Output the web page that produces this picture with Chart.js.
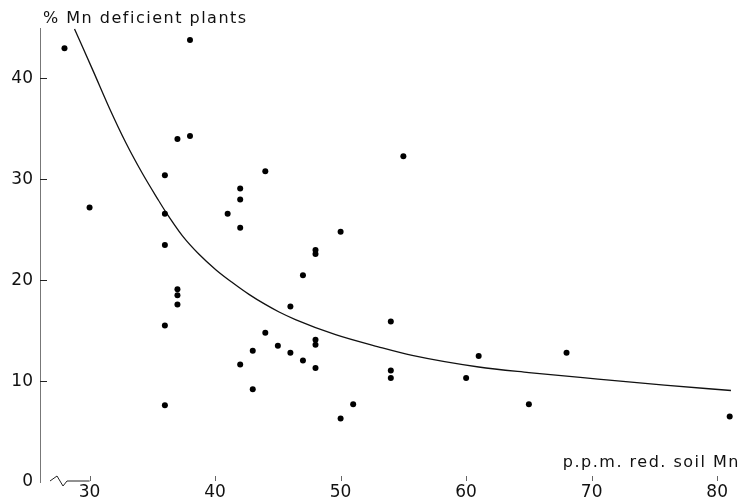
<!DOCTYPE html>
<html>
<head>
<meta charset="utf-8">
<script src="https://cdn.jsdelivr.net/npm/chart.js@4/dist/chart.umd.min.js"></script>
<style>
  html, body { margin: 0; padding: 0; background: #fff; }
  #wrap { width: 744px; height: 501px; }
</style>
</head>
<body>
<div id="wrap"><canvas id="chart"></canvas></div>
<script>
// soil Mn (p.p.m.) vs % Mn deficient plants
const soilMn = [28, 38, 30, 36, 36, 36, 36, 36, 37, 38, 37, 37, 37, 41, 42, 42, 42, 42,
  44, 50, 48, 48, 47, 46, 44, 45, 43, 46, 47, 48, 48, 48, 43, 51, 50, 55, 54, 54, 54,
  60, 61, 65, 68, 81];
const deficientPct = [43.0, 43.8, 27.2, 30.4, 26.6, 23.5, 15.5, 7.6, 34.0, 34.3, 19.1, 18.5,
  17.6, 26.6, 29.1, 28.0, 25.2, 11.65, 30.8, 24.8, 23.0, 22.6, 20.5, 17.4, 14.8, 13.5,
  13.0, 12.8, 12.05, 14.1, 13.6, 11.3, 9.2, 7.7, 6.3, 32.3, 15.9, 11.05, 10.3, 10.3,
  12.5, 7.7, 12.8, 6.5];

// fitted curve
const curveMn = [28.8, 30.3, 31.6, 32.9, 34.2, 35.5, 36.0, 37.4, 38.7, 40.1, 41.4, 42.7,
  44.0, 45.1, 46.4, 49.6, 53.0, 55.7, 61.0, 65.0, 70.5, 75.8, 81.1];
const curvePct = [44.9, 40.7, 37.0, 33.6, 30.6, 27.9, 26.9, 24.4, 22.6, 21.0, 19.75, 18.6,
  17.6, 16.85, 16.1, 14.6, 13.4, 12.55, 11.4, 10.85, 10.2, 9.6, 9.07];

const xTicks = [30, 40, 50, 60, 70, 80];
const yTicks = [0, 10, 20, 30, 40];

const yTitle = "% Mn deficient plants";
const xTitle = "p.p.m. red. soil Mn";

const fontFamily = "'DejaVu Sans', sans-serif";

const scatterData = soilMn.map((x, i) => ({ x: x, y: deficientPct[i] }));
const curveData = curveMn.map((x, i) => ({ x: x, y: curvePct[i] }));

const decorations = {
  id: 'decorations',
  afterDraw(chart) {
    const ctx = chart.ctx;
    const xs = chart.scales.x;
    const ys = chart.scales.y;
    const area = chart.chartArea;
    ctx.save();
    ctx.fillStyle = '#111';
    ctx.strokeStyle = '#222';

    // titles
    ctx.font = "16px " + fontFamily;
    ctx.letterSpacing = '1.5px';
    ctx.textBaseline = 'alphabetic';
    ctx.textAlign = 'left';
    ctx.fillText(yTitle, 43, 23);
    ctx.textAlign = 'right';
    ctx.fillText(xTitle, 740, 467);
    ctx.letterSpacing = '0px';

    // inward y ticks
    ctx.lineWidth = 1;
    ctx.beginPath();
    yTicks.forEach(v => {
      if (v === 0) return;
      const py = Math.round(ys.getPixelForValue(v)) + 0.5;
      ctx.moveTo(area.left, py);
      ctx.lineTo(area.left + 7, py);
    });
    ctx.stroke();

    // axis break + short segment to 30
    const base = area.bottom - 1;
    const x30 = xs.getPixelForValue(30);
    ctx.beginPath();
    ctx.moveTo(area.left + 10, base);
    ctx.lineTo(area.left + 17, base - 5);
    ctx.lineTo(area.left + 23, base + 5);
    ctx.lineTo(area.left + 27, base);
    ctx.lineTo(x30, base);
    ctx.stroke();

    // small x ticks
    ctx.strokeStyle = '#666';
    ctx.beginPath();
    xTicks.forEach(v => {
      const px = Math.round(xs.getPixelForValue(v)) + 0.5;
      ctx.moveTo(px, base - 5);
      ctx.lineTo(px, base);
    });
    ctx.stroke();
    ctx.restore();
  }
};

const ctx = document.getElementById('chart');
new Chart(ctx, {
  type: 'scatter',
  data: {
    datasets: [
      {
        label: 'plants',
        data: scatterData,
        pointRadius: 3,
        pointHoverRadius: 3,
        pointBackgroundColor: '#000',
        pointBorderWidth: 0,
      },
      {
        type: 'line',
        label: 'curve',
        data: curveData,
        borderColor: '#111',
        borderWidth: 1.3,
        pointRadius: 0,
        fill: false,
        cubicInterpolationMode: 'monotone',
      }
    ]
  },
  options: {
    responsive: true,
    maintainAspectRatio: false,
    animation: false,
    layout: { padding: { top: 28, right: 1, left: 0, bottom: 0 } },
    plugins: {
      legend: { display: false },
      tooltip: { enabled: false },
      title: { display: false },
    },
    scales: {
      x: {
        type: 'linear',
        min: 26.05,
        max: 81.9,
        afterBuildTicks: (scale) => { scale.ticks = xTicks.map(v => ({ value: v })); },
        afterFit: (scale) => { scale.height = 19; },
        grid: { display: false, drawTicks: false },
        border: { display: false },
        ticks: {
          padding: 0,
          color: '#111',
          font: { size: 17, family: fontFamily },
        },
      },
      y: {
        type: 'linear',
        min: 0,
        max: 45,
        afterBuildTicks: (scale) => { scale.ticks = yTicks.map(v => ({ value: v })); },
        afterFit: (scale) => { scale.width = 40; },
        grid: { display: false, drawTicks: false },
        border: { display: true, color: '#777', width: 1 },
        ticks: {
          padding: 7,
          color: '#111',
          font: { size: 17, family: fontFamily },
        },
      }
    }
  },
  plugins: [decorations]
});
</script>
</body>
</html>
